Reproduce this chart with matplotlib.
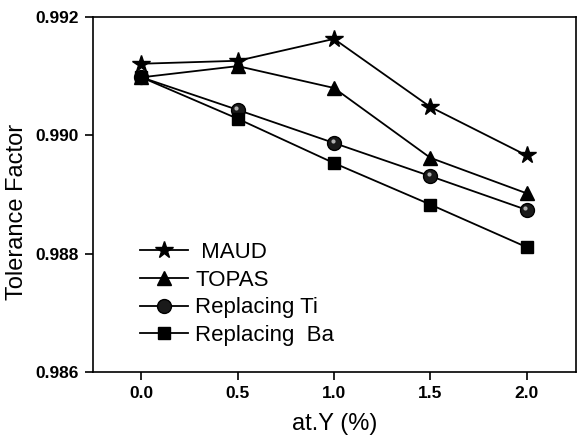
import numpy as np
import matplotlib.pyplot as plt
import matplotlib.transforms as mtransforms

plt.rcParams['font.family'] = ['Liberation Sans', 'DejaVu Sans']

# data
at_y = [0.0, 0.5, 1.0, 1.5, 2.0]
maud = [0.99121, 0.99126, 0.99163, 0.99048, 0.98966]
topas = [0.99098, 0.99117, 0.99080, 0.98962, 0.98902]
rep_ti = [0.99098, 0.99043, 0.98987, 0.98931, 0.98874]
rep_ba = [0.99098, 0.99028, 0.98953, 0.98883, 0.98811]

x_ticks = [0.0, 0.5, 1.0, 1.5, 2.0]
y_ticks = [0.986, 0.988, 0.990, 0.992]

fig = plt.figure(figsize=(5.87, 4.36), dpi=100)
ax = fig.add_axes([0.158, 0.147, 0.823, 0.814])

lw = 1.3
ax.plot(at_y, maud, c='black', lw=lw, marker='*', ms=13, label=' MAUD')
ax.plot(at_y, topas, c='black', lw=lw, marker='^', ms=10.5, label='TOPAS')
ax.plot(at_y, rep_ti, c='black', lw=lw, marker='o', ms=10,
        mfc='#1a1a1a', mec='black', label='Replacing Ti')
# little highlight on the balls
hl = mtransforms.offset_copy(ax.transData, fig=fig, x=-1.5, y=2, units='dots')
ax.plot(at_y, rep_ti, ls='none', marker='o', ms=3, mfc='#b0b0b0',
        mec='none', transform=hl)
ax.plot(at_y, rep_ba, c='black', lw=lw, marker='s', ms=9, label='Replacing  Ba')

ax.set_xlim(-0.253, 2.256)
ax.set_ylim(0.986, 0.992)
ax.set_xticks(x_ticks)
ax.set_yticks(y_ticks)
ax.set_xticklabels(['%.1f' % v for v in x_ticks], fontweight='bold', fontsize=12.5)
ax.set_yticklabels(['%.3f' % v for v in y_ticks], fontweight='bold', fontsize=12.5)
ax.tick_params(direction='out', length=6, width=1.2, pad=4)
for s in ax.spines.values():
    s.set_linewidth(1.2)

ax.set_xlabel('at.Y (%)', fontsize=17, labelpad=9)
ax.set_ylabel('Tolerance Factor', fontsize=17)
ax.yaxis.set_label_coords(-0.135, 0.45)

ax.legend(loc='upper left', bbox_to_anchor=(0.097, 0.366), frameon=False,
          fontsize=16, handlelength=2.2, handletextpad=0.3,
          labelspacing=0.3, borderpad=0, borderaxespad=0)

fig.savefig('out.png', dpi=100)
